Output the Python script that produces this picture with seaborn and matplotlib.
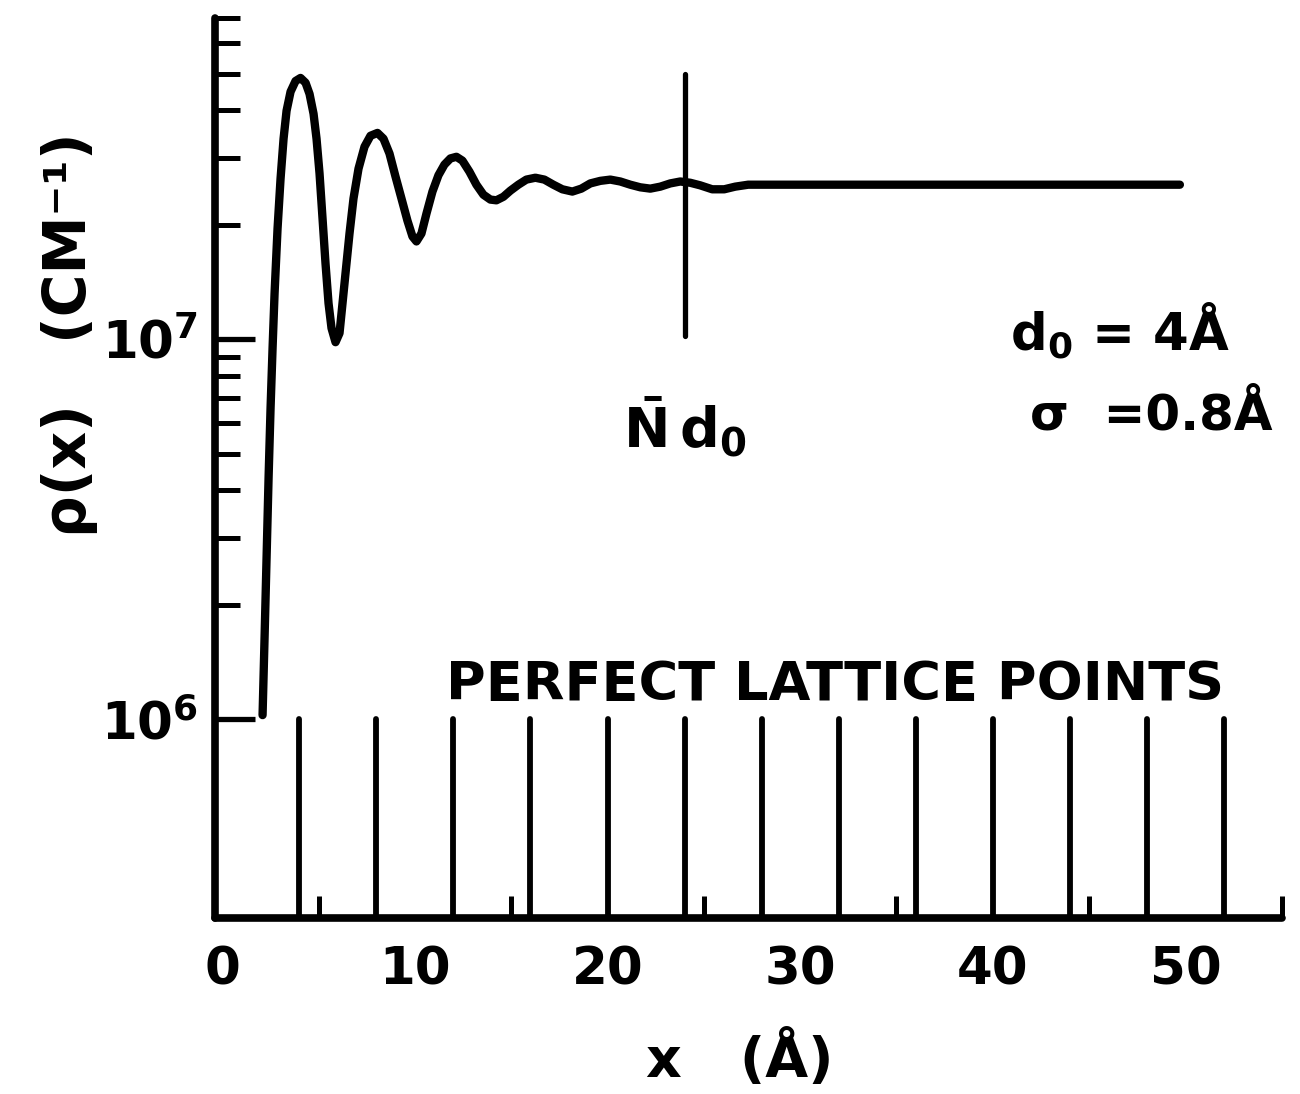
import numpy as np
import pandas as pd
import matplotlib
matplotlib.use("Agg")
import matplotlib.pyplot as plt
import seaborn as sns
from matplotlib.ticker import FixedLocator, FixedFormatter, NullFormatter

# ---- data ----
x_angstrom = [2.095, 2.199, 2.303, 2.407, 2.510, 2.614, 2.718, 2.873, 3.029, 3.185,
              3.340, 3.548, 3.807, 4.066, 4.326, 4.533, 4.741, 4.896, 5.052, 5.207,
              5.363, 5.519, 5.674, 5.882, 6.089, 6.245, 6.400, 6.608, 6.815, 7.075,
              7.386, 7.697, 8.060, 8.371, 8.683, 8.994, 9.305, 9.616, 9.876, 10.083,
              10.342, 10.602, 10.913, 11.224, 11.535, 11.846, 12.158, 12.469, 12.832, 13.195,
              13.558, 13.921, 14.232, 14.595, 14.959, 15.373, 15.788, 16.255, 16.722, 17.189,
              17.656, 18.174, 18.641, 19.108, 19.627, 20.145, 20.664, 21.183, 21.701, 22.220,
              22.739, 23.257, 23.776, 24.295, 24.813, 25.436, 26.058, 26.628, 27.303, 49.710]
rho = [1.025e6, 1.641e6, 2.662e6, 4.317e6, 6.59e6, 9.47e6, 1.32e7, 1.956e7, 2.646e7, 3.37e7,
       3.99e7, 4.48e7, 4.78e7, 4.87e7, 4.73e7, 4.42e7, 3.92e7, 3.37e7, 2.73e7, 2.08e7,
       1.58e7, 1.243e7, 1.069e7, 9.82e6, 1.037e7, 1.243e7, 1.49e7, 1.897e7, 2.345e7, 2.81e7,
       3.21e7, 3.43e7, 3.49e7, 3.37e7, 3.08e7, 2.68e7, 2.345e7, 2.05e7, 1.863e7, 1.808e7,
       1.897e7, 2.14e7, 2.446e7, 2.70e7, 2.88e7, 2.99e7, 3.02e7, 2.95e7, 2.76e7, 2.55e7,
       2.40e7, 2.33e7, 2.32e7, 2.37e7, 2.46e7, 2.55e7, 2.63e7, 2.66e7, 2.63e7, 2.55e7,
       2.48e7, 2.446e7, 2.49e7, 2.57e7, 2.61e7, 2.63e7, 2.60e7, 2.55e7, 2.51e7, 2.49e7,
       2.52e7, 2.57e7, 2.60e7, 2.58e7, 2.54e7, 2.48e7, 2.48e7, 2.52e7, 2.55e7, 2.55e7]

lattice_x = [4, 8, 12, 16, 20, 24, 28, 32, 36, 40, 44, 48, 52]
lattice_top = 1e6
nd0_x = 24
nd0_low, nd0_high = 1.02e7, 5.0e7

x_limits = (-0.4, 55)
y_limits = (3.0e5, 7.0e7)
x_label_ticks = [0, 10, 20, 30, 40, 50]
x_label_text = ["0", "10", "20", "30", "40", "50"]
x_mark_ticks = [5, 10, 15, 20, 25, 30, 35, 40, 45, 50, 55]
y_major_ticks = [1e6, 1e7]
y_major_text = [r"$10^{6}$", r"$10^{7}$"]
y_minor_ticks = [2e6, 3e6, 4e6, 5e6, 6e6, 7e6, 8e6, 9e6,
                 2e7, 3e7, 4e7, 5e7, 6e7, 7e7]

# ---- style ----
sns.set_theme(style="white")
plt.rcParams["font.family"] = ["DejaVu Sans"]
plt.rcParams["font.weight"] = "bold"
plt.rcParams["mathtext.fontset"] = "custom"
plt.rcParams["mathtext.rm"] = "DejaVu Sans:bold"
plt.rcParams["mathtext.bf"] = "DejaVu Sans:bold"
plt.rcParams["mathtext.it"] = "DejaVu Sans:bold"
plt.rcParams["text.color"] = "black"

fig = plt.figure(figsize=(13, 10.94), dpi=100)
ax = fig.add_axes([0.165, 0.161, 0.821, 0.8225])
ax.set_yscale("log")

df = pd.DataFrame({"x": x_angstrom, "rho": rho})
sns.lineplot(data=df, x="x", y="rho", ax=ax, color="black", lw=6,
             sort=False, estimator=None, solid_capstyle="round",
             solid_joinstyle="round")

ax.vlines(lattice_x, y_limits[0], lattice_top, color="black", lw=4.2,
          capstyle="round")
ax.vlines(nd0_x, nd0_low, nd0_high, color="black", lw=3.8, capstyle="round")

ax.set_xlim(*x_limits)
ax.set_ylim(*y_limits)

for s in ["top", "right"]:
    ax.spines[s].set_visible(False)
for s in ["left", "bottom"]:
    ax.spines[s].set_linewidth(5.5)
    ax.spines[s].set_color("black")
    ax.spines[s].set_capstyle("round")

ax.xaxis.set_major_locator(FixedLocator(x_label_ticks))
ax.xaxis.set_major_formatter(FixedFormatter(x_label_text))
ax.xaxis.set_minor_locator(FixedLocator(x_mark_ticks))
ax.xaxis.set_minor_formatter(NullFormatter())
ax.tick_params(axis="x", which="major", bottom=True, length=0, pad=20,
               labelsize=37, labelcolor="black")
ax.tick_params(axis="x", which="minor", bottom=True, direction="in",
               length=16, width=3.6, color="black")

ax.yaxis.set_major_locator(FixedLocator(y_major_ticks))
ax.yaxis.set_major_formatter(FixedFormatter(y_major_text))
ax.yaxis.set_minor_locator(FixedLocator(y_minor_ticks))
ax.yaxis.set_minor_formatter(NullFormatter())
ax.tick_params(axis="y", which="major", left=True, direction="in",
               length=29, width=3.8, pad=12, labelsize=37,
               labelcolor="black", color="black")
ax.tick_params(axis="y", which="minor", left=True, direction="in",
               length=18, width=3.6, color="black")
ax.grid(False)

ax.set_ylabel("ρ(x)   (CM⁻¹)", fontsize=42, fontweight="bold", color="black")
ax.yaxis.set_label_coords(-0.136, 0.648)
ax.yaxis.label.set_verticalalignment("center")

ax.set_xlabel("x   (Å)", fontsize=40, fontweight="bold", color="black")
ax.xaxis.set_label_coords(0.492, -0.158)
ax.xaxis.label.set_verticalalignment("center")

fig.text(0.642, 0.374, "PERFECT LATTICE POINTS", fontsize=39,
         fontweight="bold", ha="center", va="center")
fig.text(0.527, 0.609, r"$\bar{\mathrm{N}}\,\mathrm{d}_{\mathrm{0}}$",
         fontsize=40, ha="center", va="center")
fig.text(0.777, 0.680, r"d$_{\mathrm{0}}$ = 4Å", fontsize=37,
         fontweight="bold", ha="left", va="baseline")
fig.text(0.792, 0.607, "σ  =0.8Å", fontsize=36,
         fontweight="bold", ha="left", va="baseline")

fig.savefig("out.png", dpi=100)
